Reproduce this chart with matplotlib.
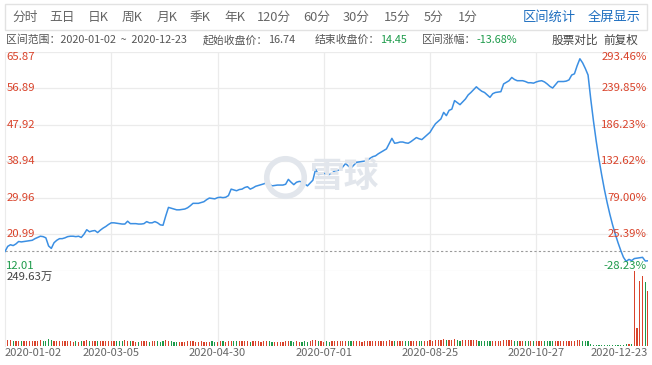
import matplotlib.pyplot as plt
import numpy as np
from matplotlib.patches import Rectangle
from matplotlib.lines import Line2D
from matplotlib.transforms import blended_transform_factory

plt.rcParams['font.family'] = ['Noto Sans CJK SC', 'DejaVu Sans']

# daily closes 2020-01-02 .. 2020-12-23
closes = [
    16.74, 18.0, 18.4, 18.2, 18.6, 19.2, 19.1, 19.2, 19.3, 19.4,
    19.5, 19.9, 20.2, 20.5, 20.4, 20.1, 18.1, 17.5, 18.9, 19.5,
    19.9, 19.9, 20.1, 20.4, 20.5, 20.5, 20.4, 20.5, 20.2, 21.0,
    22.1, 21.6, 21.8, 21.9, 21.4, 22.0, 22.5, 22.9, 23.4, 23.8,
    23.8, 23.7, 23.6, 23.5, 23.5, 24.2, 23.6, 23.6, 23.6, 23.5,
    23.5, 23.6, 24.1, 23.8, 23.8, 24.1, 23.8, 23.3, 23.2, 25.5,
    27.6, 27.4, 27.2, 27.0, 27.0, 27.1, 27.2, 27.5, 28.0, 28.6,
    28.6, 28.6, 28.8, 29.0, 29.5, 29.9, 29.8, 29.7, 30.0, 30.1,
    30.0, 30.1, 30.5, 32.1, 31.9, 31.7, 32.0, 32.1, 32.5, 32.7,
    32.1, 32.4, 32.8, 33.0, 33.2, 33.4, 33.7, 33.3, 32.9, 33.0,
    33.1, 33.1, 33.1, 33.3, 34.5, 33.8, 33.2, 33.8, 34.0, 33.9,
    33.4, 32.9, 33.6, 34.3, 37.0, 35.7, 35.8, 36.0, 35.8, 35.7,
    36.0, 36.6, 36.7, 36.8, 37.6, 38.4, 37.8, 37.3, 38.0, 38.7,
    38.8, 38.9, 39.0, 39.2, 39.7, 40.1, 40.3, 40.8, 41.2, 41.6,
    42.0, 43.3, 44.6, 43.4, 43.5, 43.7, 43.7, 43.5, 43.4, 43.8,
    44.3, 44.8, 44.5, 44.3, 44.9, 45.5, 46.1, 47.2, 48.2, 48.8,
    49.4, 51.0, 50.2, 51.5, 51.8, 53.9, 53.4, 52.9, 53.6, 54.3,
    55.3, 55.9, 56.6, 57.3, 56.7, 56.2, 55.9, 55.3, 54.7, 55.6,
    55.9, 56.0, 56.1, 58.0, 58.4, 58.8, 59.6, 59.1, 58.8, 58.8,
    58.8, 58.6, 58.3, 58.3, 58.2, 58.5, 58.7, 58.8, 58.5, 58.0,
    57.4, 57.0, 57.8, 58.6, 58.6, 58.6, 58.7, 59.0, 60.2, 60.5,
    62.5, 64.2, 63.2, 61.8, 60.2, 54.2, 48.8, 43.9, 39.5, 35.6,
    32.0, 28.8, 25.9, 23.3, 21.0, 18.9, 17.0, 15.3, 14.3, 14.8,
    14.5, 15.0, 15.1, 15.2, 15.3, 14.4, 14.45,
]

# volume, 万股
volumes = [
    24, 21, 19, 18, 17, 17, 16, 17, 18, 17,
    16, 17, 18, 19, 17, 18, 24, 21, 17, 16,
    16, 15, 17, 16, 15, 14, 15, 14, 16, 18,
    19, 17, 16, 15, 17, 16, 15, 16, 17, 15,
    16, 17, 15, 17, 21, 18, 16, 15, 14, 14,
    15, 16, 15, 14, 15, 16, 15, 14, 17, 21,
    17, 15, 14, 14, 13, 14, 14, 15, 16, 15,
    14, 14, 15, 14, 13, 14, 15, 14, 14, 15,
    15, 14, 16, 18, 16, 15, 15, 16, 17, 15,
    14, 15, 16, 15, 14, 15, 17, 15, 14, 14,
    14, 13, 14, 15, 17, 16, 14, 15, 14, 14,
    15, 14, 15, 19, 21, 17, 15, 14, 15, 14,
    15, 16, 15, 16, 17, 16, 15, 15, 16, 15,
    15, 14, 15, 16, 15, 16, 17, 16, 17, 18,
    17, 21, 18, 17, 16, 16, 15, 15, 16, 17,
    17, 16, 16, 17, 17, 18, 19, 18, 19, 19,
    20, 22, 19, 20, 20, 23, 19, 18, 19, 20,
    20, 21, 21, 19, 18, 18, 17, 18, 17, 18,
    17, 17, 18, 20, 19, 19, 20, 18, 17, 17,
    16, 16, 15, 15, 16, 15, 15, 16, 15, 16,
    17, 16, 16, 15, 15, 15, 16, 15, 18, 17,
    19, 20, 18, 17, 15, 5, 4, 4, 4, 4,
    4, 4, 4, 4, 4, 4, 4, 4, 5, 5,
    5, 249.63, 60, 217, 231, 213, 182,
]

price_ticks = [12.01, 20.99, 29.96, 38.94, 47.92, 56.89, 65.87]
pct_labels = ['-28.23%', '25.39%', '79.00%', '132.62%', '186.23%', '239.85%', '293.46%']
date_pos = [0, 39, 78, 117, 156, 195, 236]
date_labels = ['2020-01-02', '2020-03-05', '2020-04-30', '2020-07-01',
               '2020-08-25', '2020-10-27', '2020-12-23']
start_close = 16.74
tabs = ['分时', '五日', '日K', '周K', '月K', '季K', '年K', '120分', '60分', '30分', '15分', '5分', '1分']

RED = '#d9432b'
GREEN = '#1e9b4b'
BLUE = '#3b8fe3'
GRID = '#ebebeb'
MARK = '#e2e6ec'

W, H = 652, 365
fig = plt.figure(figsize=(W / 100, H / 100), dpi=100)


def fx(px):
    return px / W


def fy(py):
    return 1 - py / H


# toolbar
fig.patches.append(Rectangle((fx(5), fy(30)), fx(647) - fx(5), fy(4) - fy(30),
                             transform=fig.transFigure, fill=False,
                             edgecolor='#e2e2e2', lw=1))
tab_x = [12, 49, 88, 122, 157, 190, 224, 257, 303, 343, 384, 424, 458]
for t, x in zip(tabs, tab_x):
    fig.text(fx(x), fy(17), t, fontsize=9.2, color='#666666', va='center')
fig.text(fx(523), fy(17), '区间统计', fontsize=9.5, color='#1f6fc0', va='center')
fig.text(fx(588), fy(17), '全屏显示', fontsize=9.5, color='#1f6fc0', va='center')

# header line
renderer = fig.canvas.get_renderer()
hy = fy(40)
hs = 7.8
fig.text(fx(6), hy, '区间范围：2020-01-02  ~  2020-12-23', fontsize=hs, color='#555555', va='center')
header = [('起始收盘价：', '%.2f' % start_close, '#555555', 203),
          ('结束收盘价：', '%.2f' % closes[-1], GREEN, 315),
          ('区间涨幅：', '%.2f%%' % ((closes[-1] / start_close - 1) * 100), GREEN, 422)]
for lab, val, col, x in header:
    t = fig.text(fx(x), hy, lab, fontsize=hs, color='#555555', va='center')
    bb = t.get_window_extent(renderer)
    fig.text(bb.x1 / fig.dpi / fig.get_figwidth(), hy, val, fontsize=hs, color=col, va='center')
fig.text(fx(552), hy, '股票对比', fontsize=hs + 0.6, color='#444444', va='center')
fig.text(fx(603), hy, '前复权', fontsize=hs + 0.6, color='#444444', va='center')

# price panel
x = np.arange(len(closes))
ax = fig.add_axes([fx(5), fy(270.7), fx(648) - fx(5), fy(52) - fy(270.7)])
ax.set_facecolor('none')
ax.set_xlim(0, len(closes) - 1)
ax.set_ylim(price_ticks[0], price_ticks[-1])
for v in price_ticks:
    ax.axhline(v, color=GRID, lw=0.9, zorder=0)
for p in date_pos[1:-1]:
    ax.axvline(p, color=GRID, lw=0.9, zorder=0)
ax.axhline(start_close, color='#9a9a9a', lw=0.8, ls=(0, (2, 2)), zorder=1)

# watermark
fig.lines.append(Line2D([fx(285)], [fy(177)], transform=fig.transFigure, marker='o',
                        markersize=27, mfc='none', mec=MARK, mew=4, zorder=0))
fig.text(fx(345), fy(176), '雪球', fontsize=25, fontweight='bold', color=MARK,
         ha='center', va='center', zorder=0)

ax.plot(x, closes, color=BLUE, lw=1.1, zorder=3)

tr = blended_transform_factory(ax.transAxes, ax.transData)
n = len(price_ticks)
for i, (v, pl) in enumerate(zip(price_ticks, pct_labels)):
    va = 'top' if i == n - 1 else ('bottom' if i == 0 else 'center')
    col = GREEN if i == 0 else RED
    ax.text(0.002, v, '%.2f' % v, transform=tr, ha='left', va=va, fontsize=8.2, color=col)
    ax.text(0.998, v, pl, transform=tr, ha='right', va=va, fontsize=8.2, color=col)

for s in ['top', 'right', 'bottom']:
    ax.spines[s].set_visible(False)
ax.spines['left'].set_color(GRID)
ax.set_xticks([])
ax.set_yticks([])

# volume panel
axv = fig.add_axes([fx(5), fy(346), fx(648) - fx(5), fy(270.7) - fy(346)])
axv.set_facecolor('none')
axv.set_xlim(0, len(closes) - 1)
axv.set_ylim(0, max(volumes))
colors = [RED] + [RED if closes[i] >= closes[i - 1] else GREEN for i in range(1, len(closes))]
axv.bar(x, volumes, width=0.45, color=colors, zorder=2)
for p in date_pos[1:-1]:
    axv.axvline(p, color=GRID, lw=0.9, zorder=0)
axv.text(0.002, 0.98, '%.2f万' % max(volumes), transform=axv.transAxes,
         ha='left', va='top', fontsize=8.2, color='#444444')
for s in ['top', 'right', 'bottom']:
    axv.spines[s].set_visible(False)
axv.spines['left'].set_color(GRID)
axv.set_xticks([])
axv.set_yticks([])

trx = blended_transform_factory(axv.transData, fig.transFigure)
for i, (p, lab) in enumerate(zip(date_pos, date_labels)):
    ha = 'left' if i == 0 else ('right' if i == len(date_pos) - 1 else 'center')
    axv.text(p, fy(353), lab, transform=trx, ha=ha, va='center', fontsize=8, color='#666666')

fig.savefig('out.png', dpi=100)
